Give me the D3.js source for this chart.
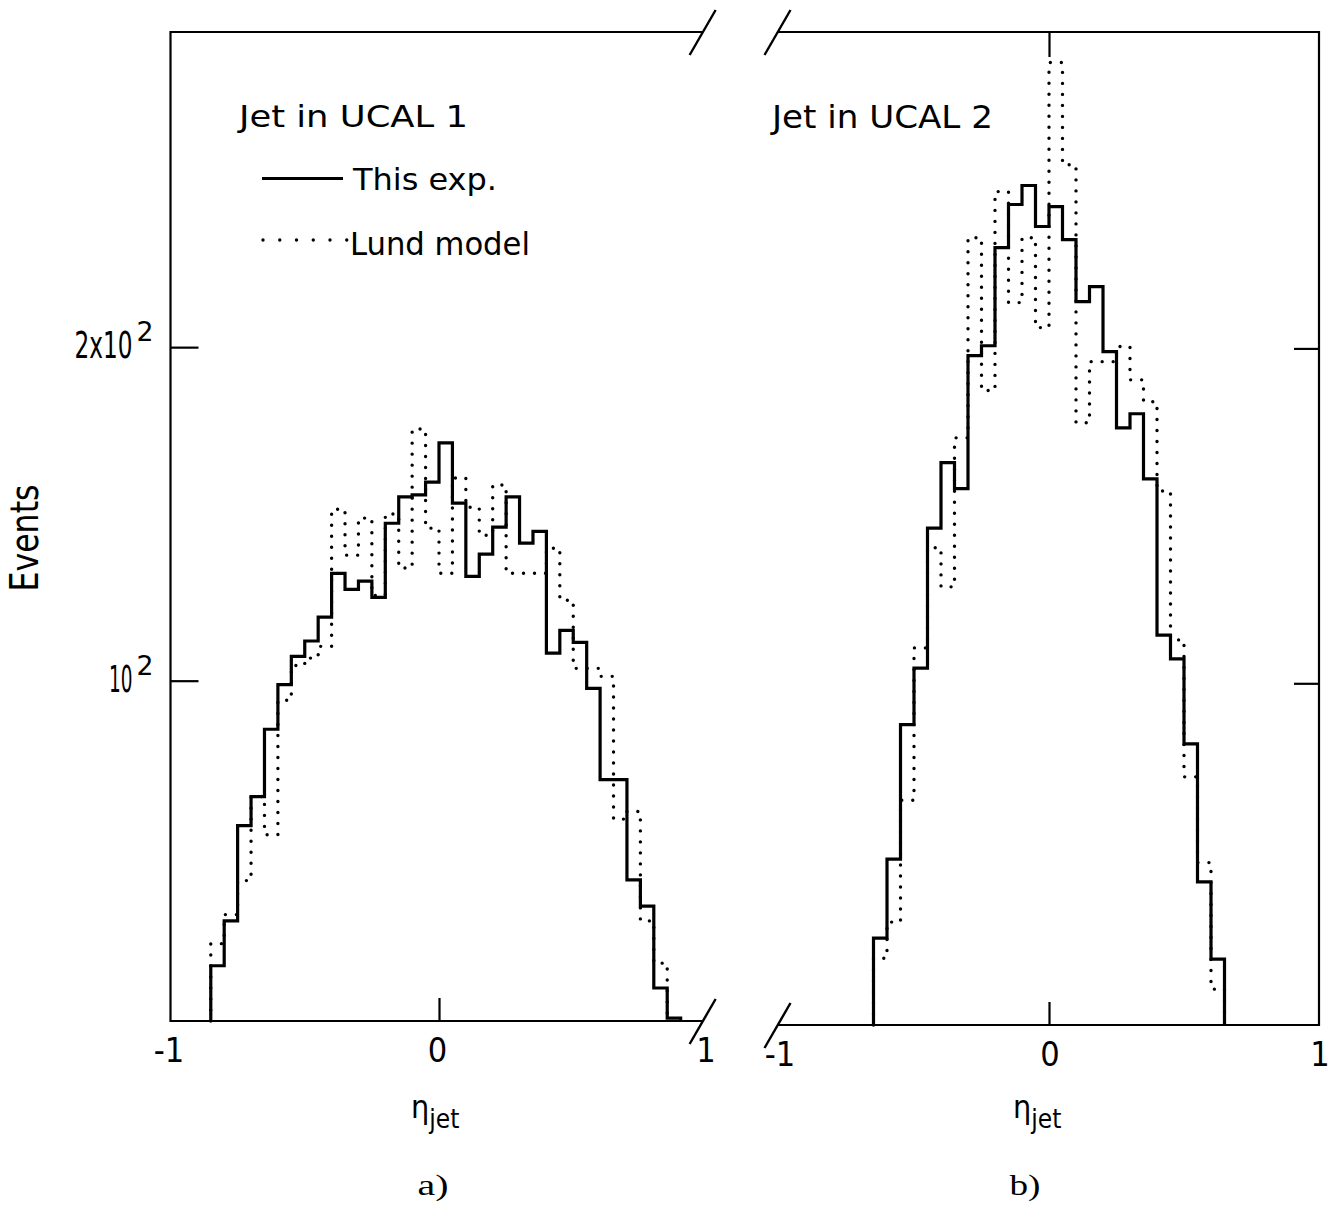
<!DOCTYPE html>
<html>
<head>
<meta charset="utf-8">
<script src="https://cdn.jsdelivr.net/npm/d3@7"></script>
<style>
  html, body { margin: 0; padding: 0; background: #fff; }
  svg { display: block; }
</style>
</head>
<body>
<svg id="chart" width="1335" height="1213"></svg>
<script>
// Pseudorapidity histograms of the leading jet, 0.05-wide bins in eta.
const binWidth = 0.05;

// Jet in UCAL 1: bins from eta = -0.85 upward
const ucal1Start = -0.85;
const ucal1Exp  = [55.3, 60.7, 74.0, 78.6, 90.4, 99.2, 105.2, 108.6, 114.1, 125.0,
                   120.9, 123.0, 118.9, 138.7, 146.5, 147.1, 151.1, 163.9, 144.6, 124.2,
                   130.1, 137.6, 146.5, 133.1, 136.4, 105.9, 111.0, 108.3, 98.4, 81.4,
                   81.4, 66.1, 62.6, 52.8, 49.6];
const ucal1Lund = [57.9, 61.5, 66.0, 78.6, 72.6, 96.0, 103.2, 104.8, 107.4, 142.8,
                   129.8, 140.2, 119.4, 141.4, 126.4, 168.7, 137.3, 125.0, 152.4, 143.4,
                   135.3, 150.2, 125.0, 125.0, 125.0, 131.7, 118.2, 102.6, 102.6, 100.9,
                   75.0, 76.2, 60.7, 55.6];

// Jet in UCAL 2: bins from eta = -0.65 upward
const ucal2Start = -0.65;
const ucal2Exp  = [59.0, 69.5, 91.8, 103.2, 137.9, 157.9, 149.6, 197.0, 201.1, 246.4,
                   269.4, 280.2, 257.4, 268.2, 250.5, 220.3, 227.3, 198.7, 169.7, 174.7,
                   152.7, 110.5, 105.2, 88.2, 66.3, 56.5];
const ucal2Lund = [56.6, 61.0, 78.5, 107.6, 132.4, 122.1, 166.2, 251.5, 183.3, 276.7,
                   219.9, 251.5, 208.8, 361.4, 292.5, 171.5, 194.6, 194.6, 200.8, 187.4,
                   179.1, 148.9, 109.4, 82.4, 69.0, 53.1];

// Axes
const eventsDomain = [49.3, 385];
const yTicks = [100, 200];
const yTickLabels = [["10", "2"], ["2x10", "2"]];
const etaTicks = [-1, 0, 1];
const etaTickLabels = ["-1", "0", "1"];
const panelTitles = ["Jet in UCAL 1", "Jet in UCAL 2"];
const panelTags = ["a)", "b)"];
const legendLabels = ["This exp.", "Lund model"];

const svg = d3.select("#chart");
const ink = "#000";
const sans = "'DejaVu Sans Condensed','DejaVu Sans',sans-serif";
const serif = "'Liberation Serif','DejaVu Serif',serif";

const panels = [
  { x: d3.scaleLinear().domain([-1, 1]).range([170.5, 707.5]),
    y: d3.scaleLog().domain(eventsDomain).range([1021, 32]),
    start: ucal1Start, exp: ucal1Exp, lund: ucal1Lund, tagShift: -6, etaShift: -28 },
  { x: d3.scaleLinear().domain([-1, 1]).range([779, 1319]),
    y: d3.scaleLog().domain(eventsDomain).range([1025, 32]),
    start: ucal2Start, exp: ucal2Exp, lund: ucal2Lund, tagShift: -24, etaShift: -36 }
];

function stepPath(p, start, values) {
  const base = p.y(p.y.domain()[0]);
  let d = `M${p.x(start)},${base}`;
  values.forEach((v, i) => {
    d += `V${p.y(v)}H${p.x(start + (i + 1) * binWidth)}`;
  });
  return d + `V${base}`;
}

function breakMark(cx, cy) {
  svg.append("line")
    .attr("x1", cx - 12.5).attr("y1", cy + 23)
    .attr("x2", cx + 13.5).attr("y2", cy - 22)
    .attr("stroke", ink).attr("stroke-width", 2.4);
}

// Text placed at (x, y); when a width is given the glyphs are squeezed
// horizontally (narrow plotter lettering) to span exactly that width.
function label(text, x, y, size, opts = {}) {
  const anchor = opts.anchor || "start";
  const t = svg.append("text")
    .attr("x", 0).attr("y", 0)
    .attr("font-family", opts.family || sans)
    .attr("font-size", size)
    .attr("fill", ink)
    .attr("text-anchor", anchor)
    .text(text);
  let sx = 1;
  if (opts.width) sx = opts.width / t.node().getComputedTextLength();
  const rot = opts.rotate ? ` rotate(${opts.rotate})` : "";
  t.attr("transform", `translate(${x},${y})${rot} scale(${sx},1)`);
  return t;
}

function styleTicks(g) {
  g.select(".domain").remove();
  g.selectAll(".tick line").attr("stroke", ink).attr("stroke-width", 2.2);
}

panels.forEach((p, i) => {
  const top = p.y(p.y.domain()[1]);
  const bottom = p.y(p.y.domain()[0]);
  const left = p.x(-1), right = p.x(1);

  // Frame: the left panel is cut on its right side, the right panel on its left side
  if (i === 0) {
    const cut = p.x(0.98);
    svg.append("path")
      .attr("d", `M${cut},${top}H${left}V${bottom}H${cut}`)
      .attr("fill", "none").attr("stroke", ink).attr("stroke-width", 2.2);
    breakMark(cut, top);
    breakMark(cut, bottom);
    svg.append("g").attr("transform", `translate(${left},0)`)
      .call(d3.axisLeft(p.y).tickValues(yTicks).tickSizeInner(-28).tickSizeOuter(0).tickFormat(() => ""))
      .call(styleTicks);
    // Power-of-ten labels with raised exponent
    yTicks.forEach((v, k) => {
      const yy = p.y(v);
      const [mant, expo] = yTickLabels[k];
      label(mant, left - 38, yy + 11, 37, { anchor: "end", width: k === 1 ? 58 : 23.5 });
      label(expo, left - 34, yy - 6, 26, { width: 17 });
    });
  } else {
    const cut = p.x(-1) - 2;
    svg.append("path")
      .attr("d", `M${cut},${top}H${right}V${bottom}H${cut}`)
      .attr("fill", "none").attr("stroke", ink).attr("stroke-width", 2.2);
    breakMark(cut, top);
    breakMark(cut, bottom);
    svg.append("g").attr("transform", `translate(${right},0)`)
      .call(d3.axisRight(p.y).tickValues(yTicks).tickSizeInner(-25).tickSizeOuter(0).tickFormat(() => ""))
      .call(styleTicks);
    svg.append("g").attr("transform", `translate(0,${top})`)
      .call(d3.axisTop(p.x).tickValues([0]).tickSizeInner(-25).tickSizeOuter(0).tickFormat(() => ""))
      .call(styleTicks);
  }

  // Inner tick at eta = 0 on the bottom edge
  svg.append("g").attr("transform", `translate(0,${bottom})`)
    .call(d3.axisBottom(p.x).tickValues([0]).tickSizeInner(-23).tickSizeOuter(0).tickFormat(() => ""))
    .call(styleTicks);

  etaTicks.forEach((v, k) => {
    label(etaTickLabels[k], p.x(v) + (i === 0 ? -1.5 : 1), bottom + 41, 34, { anchor: "middle" });
  });

  // eta_jet axis title
  const xt = svg.append("text")
    .attr("x", p.x(0) + p.etaShift).attr("y", 1118)
    .attr("font-family", sans).attr("fill", ink);
  xt.append("tspan").attr("font-size", 32).text("η");
  xt.append("tspan").attr("font-size", 26).attr("dy", 10).text("jet");

  label(panelTags[i], p.x(0) + p.tagShift, 1195, 30, { family: serif, anchor: "middle", width: 31 });

  // Lund model (dotted) beneath, this experiment (solid) on top
  svg.append("path")
    .attr("d", stepPath(p, p.start, p.lund))
    .attr("fill", "none").attr("stroke", ink)
    .attr("stroke-width", 3.4).attr("stroke-linecap", "round")
    .attr("stroke-dasharray", "0 11");
  svg.append("path")
    .attr("d", stepPath(p, p.start, p.exp))
    .attr("fill", "none").attr("stroke", ink)
    .attr("stroke-width", 3.2).attr("stroke-linejoin", "miter");
});

// Panel titles and legend
label(panelTitles[0], 239, 127, 30, { width: 229 });
label(panelTitles[1], 772, 128, 32, { width: 221 });

svg.append("line").attr("x1", 262).attr("x2", 343).attr("y1", 178.5).attr("y2", 178.5)
  .attr("stroke", ink).attr("stroke-width", 3);
label(legendLabels[0], 353, 190, 31, { width: 144 });
svg.append("line").attr("x1", 263).attr("x2", 347).attr("y1", 240).attr("y2", 240)
  .attr("stroke", ink).attr("stroke-width", 3.4).attr("stroke-linecap", "round")
  .attr("stroke-dasharray", "0 16.75");
label(legendLabels[1], 350, 255, 32, { width: 180 });

// Vertical axis title
label("Events", 38, 538, 39, { anchor: "middle", width: 107, rotate: -90 });
</script>
</body>
</html>
